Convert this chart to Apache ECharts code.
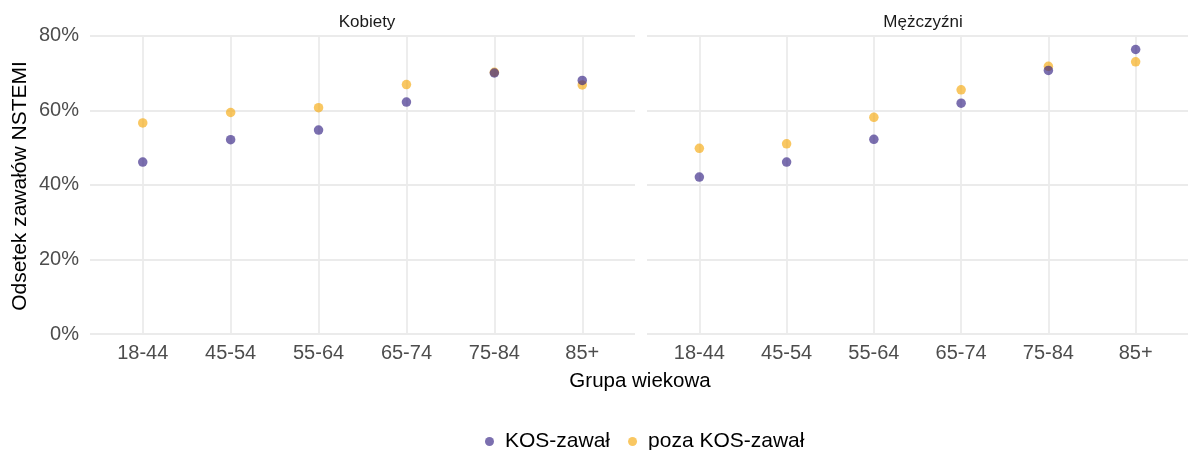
<!DOCTYPE html>
<html>
<head>
<meta charset="utf-8">
<script src="https://cdn.jsdelivr.net/npm/echarts@6/dist/echarts.min.js"></script>
<style>
  html, body { margin: 0; padding: 0; background: #ffffff; }
  #chart { width: 1188px; height: 450px; }
</style>
</head>
<body>
<div id="chart"></div>
<script>
// Age groups on the x axis
const ageGroups = ['18-44', '45-54', '55-64', '65-74', '75-84', '85+'];
// Panel titles
const panels = ['Kobiety', 'Mężczyźni'];
// Share of NSTEMI infarctions (%), women
const womenKOS = [46.1, 52.1, 54.7, 62.2, 70.0, 68.0];
const womenOutside = [56.6, 59.4, 60.7, 66.9, 70.2, 66.8];
// Share of NSTEMI infarctions (%), men
const menKOS = [42.1, 46.1, 52.2, 61.9, 70.7, 76.3];
const menOutside = [49.8, 51.0, 58.1, 65.5, 71.8, 73.0];
// Y axis ticks
const yTicks = [0, 20, 40, 60, 80];
const seriesNames = ['KOS-zawał', 'poza KOS-zawał'];

const purple = 'rgba(49,30,130,0.8)';
const yellow = 'rgba(246,167,9,0.8)';
const fontFamily = '"Liberation Sans", Arial, sans-serif';
const gridColor = '#ebebeb';

const toPoints = arr => arr.map((v, i) => [i, v]);
const tickIdx = ageGroups.map((_, i) => i);

function xAxis(gridIndex) {
  return {
    type: 'value', gridIndex, min: -0.6, max: 5.6,
    axisLine: { show: false },
    axisTick: { show: false, customValues: tickIdx },
    axisLabel: {
      customValues: tickIdx,
      formatter: v => ageGroups[Math.round(v)],
      color: '#4d4d4d', fontSize: 20, fontFamily, margin: 9
    },
    splitLine: { show: true, lineStyle: { color: gridColor, width: 1.8 } }
  };
}
function yAxis(gridIndex, showLabels) {
  return {
    type: 'value', gridIndex, min: yTicks[0], max: yTicks[yTicks.length - 1], interval: 20,
    axisLine: { show: false }, axisTick: { show: false },
    axisLabel: {
      show: showLabels, formatter: '{value}%', color: '#4d4d4d',
      fontSize: 20, fontFamily, margin: 11
    },
    splitLine: { show: true, lineStyle: { color: gridColor, width: 1.8 } }
  };
}
function scatter(name, data, color, idx) {
  return {
    type: 'scatter', name, data: toPoints(data),
    xAxisIndex: idx, yAxisIndex: idx,
    symbol: 'circle', symbolSize: 9.5,
    itemStyle: { color },
    emphasis: { disabled: true }
  };
}

const chart = echarts.init(document.getElementById('chart'), null, { renderer: 'canvas' });
chart.setOption({
  animation: false,
  backgroundColor: '#ffffff',
  textStyle: { fontFamily },
  grid: [
    { left: 90, top: 35.7, width: 545, height: 298.3 },
    { left: 647, top: 35.7, width: 545, height: 298.3 }
  ],
  title: [
    { text: panels[0], left: 362, top: 9, textAlign: 'center',
      textStyle: { fontSize: 17, fontWeight: 'normal', color: '#1a1a1a', fontFamily } },
    { text: panels[1], left: 918, top: 9, textAlign: 'center',
      textStyle: { fontSize: 17, fontWeight: 'normal', color: '#1a1a1a', fontFamily } }
  ],
  xAxis: [xAxis(0), xAxis(1)],
  yAxis: [yAxis(0, true), yAxis(1, false)],
  legend: {
    data: seriesNames.map(n => ({ name: n, icon: 'circle' })),
    left: 480, top: 426, itemWidth: 9, itemHeight: 9, itemGap: 18,
    textStyle: { fontSize: 21, color: '#000000', fontFamily, padding: [0, 0, 0, 6] }
  },
  graphic: [
    { type: 'text', x: 640, y: 381,
      style: { text: 'Grupa wiekowa', font: '20.5px ' + fontFamily, fill: '#000000',
               textAlign: 'center', textVerticalAlign: 'middle' } },
    { type: 'text', x: 20, y: 186, rotation: Math.PI / 2,
      style: { text: 'Odsetek zawałów NSTEMI', font: '21px ' + fontFamily, fill: '#000000',
               textAlign: 'center', textVerticalAlign: 'middle' } }
  ],
  series: [
    scatter(seriesNames[1], womenOutside, yellow, 0),
    scatter(seriesNames[0], womenKOS, purple, 0),
    scatter(seriesNames[1], menOutside, yellow, 1),
    scatter(seriesNames[0], menKOS, purple, 1)
  ]
});
</script>
</body>
</html>
